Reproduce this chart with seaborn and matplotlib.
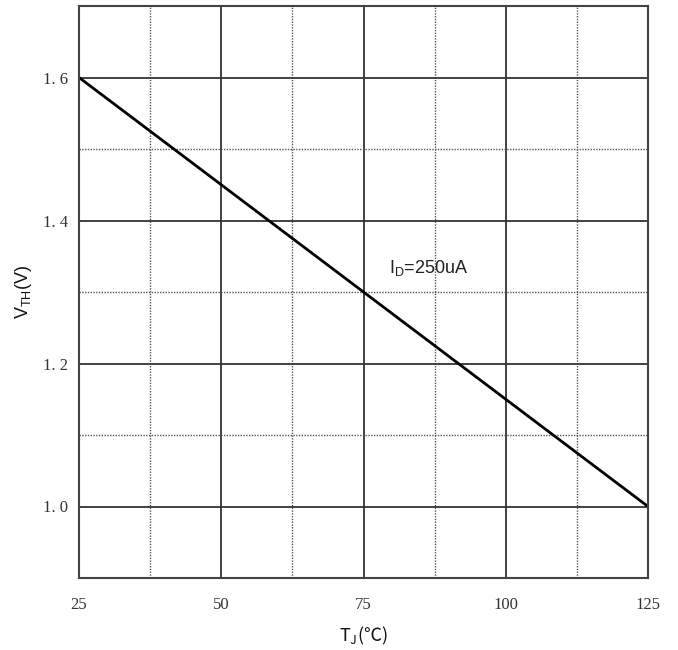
import matplotlib
matplotlib.use("Agg")
import matplotlib.pyplot as plt
import seaborn as sns
import pandas as pd

# Data
temperature_c = [25, 125]
vth_v = [1.6, 1.0]
x_ticks = [25, 50, 75, 100, 125]
x_minor = [37.5, 62.5, 87.5, 112.5]
y_ticks = [1.0, 1.2, 1.4, 1.6]
y_tick_labels = ["1. 0", "1. 2", "1. 4", "1. 6"]
y_minor = [1.1, 1.3, 1.5]
annotation = r"$\mathregular{I_D}$=250uA"

sns.set_theme(style="white")
plt.rcParams['font.family'] = ['Liberation Sans', 'DejaVu Sans']

fig = plt.figure(figsize=(6.78, 6.5), dpi=100)
ax = fig.add_axes([79/678, 1 - 578/650, (648-79)/678, (578-6)/650])

df = pd.DataFrame({"T": temperature_c, "V": vth_v})
sns.lineplot(data=df, x="T", y="V", ax=ax, color="black", linewidth=2.0)

ax.set_xlim(25, 125)
ax.set_ylim(0.9, 1.7)
ax.set_xticks(x_ticks)
ax.set_xticks(x_minor, minor=True)
ax.set_yticks(y_ticks)
ax.set_yticklabels(y_tick_labels)
ax.set_yticks(y_minor, minor=True)

ax.grid(which="major", color="#333333", linewidth=1.3, linestyle="-")
ax.grid(which="minor", color="#555555", linewidth=1.0, linestyle=(0, (1, 1)))
ax.set_axisbelow(True)

for s in ax.spines.values():
    s.set_color("#444444")
    s.set_linewidth(1.5)

ax.tick_params(axis="both", which="both", length=0)
ax.tick_params(axis="x", pad=14)
ax.tick_params(axis="y", pad=8)
for lab in ax.get_xticklabels() + ax.get_yticklabels():
    lab.set_family(["Liberation Serif", "DejaVu Serif"])
    lab.set_fontsize(12)
    lab.set_color("#333333")

ax.set_xlabel(r"$\mathregular{T_J}$(℃)", fontsize=13, labelpad=8, color="#111111",
              family=["Noto Sans CJK SC", "DejaVu Sans"])
ax.set_ylabel(r"$\mathregular{V_{TH}}$(V)", fontsize=13, labelpad=6, color="#111111")

ax.text(79.5, 1.334, annotation, fontsize=13, color="#222222", va="center", ha="left")

fig.savefig("out.png", dpi=100)
